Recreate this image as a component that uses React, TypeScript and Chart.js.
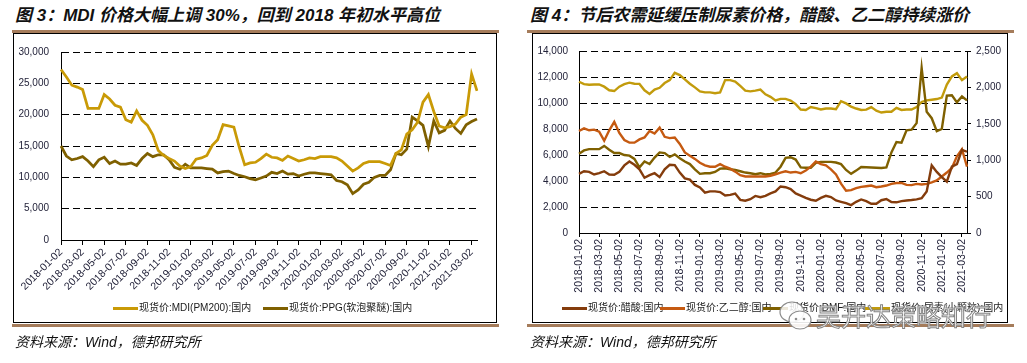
import React, { useEffect, useRef } from "react";
import { Chart, registerables } from "chart.js";

Chart.register(...registerables);

// ---------- categories (semi-monthly) ----------
const dates = [
  "2018-01-02","2018-01-17","2018-02-02","2018-02-17","2018-03-02","2018-03-17","2018-04-02","2018-04-17","2018-05-02","2018-05-17","2018-06-02","2018-06-17",
  "2018-07-02","2018-07-17","2018-08-02","2018-08-17","2018-09-02","2018-09-17","2018-10-02","2018-10-17","2018-11-02","2018-11-17","2018-12-02","2018-12-17",
  "2019-01-02","2019-01-17","2019-02-02","2019-02-17","2019-03-02","2019-03-17","2019-04-02","2019-04-17","2019-05-02","2019-05-17","2019-06-02","2019-06-17",
  "2019-07-02","2019-07-17","2019-08-02","2019-08-17","2019-09-02","2019-09-17","2019-10-02","2019-10-17","2019-11-02","2019-11-17","2019-12-02","2019-12-17",
  "2020-01-02","2020-01-17","2020-02-02","2020-02-17","2020-03-02","2020-03-17","2020-04-02","2020-04-17","2020-05-02","2020-05-17","2020-06-02","2020-06-17",
  "2020-07-02","2020-07-17","2020-08-02","2020-08-17","2020-09-02","2020-09-17","2020-10-02","2020-10-17","2020-11-02","2020-11-17","2020-12-02","2020-12-17",
  "2021-01-02","2021-01-17","2021-02-02","2021-02-17","2021-03-02","2021-03-17",
];

// ---------- Figure 3 series ----------
const mdiPrice = [
  27200,26000,24700,24400,24000,21000,21000,21000,23200,22500,
  21500,21200,19200,18800,20600,19100,18300,16800,14300,13500,
  13000,12600,11800,11400,11700,12900,13100,13500,15100,16000,
  18400,18200,18000,14800,12000,12300,12400,13000,13700,13200,
  13100,12700,13400,13000,12600,12800,13100,13000,13300,13300,
  13300,13100,12600,11800,11000,11500,12200,12500,12500,12500,
  12200,11900,13800,14400,16900,17600,18800,22000,23200,20500,
  18200,17900,18100,18500,19600,20000,26500,23800,
];
const ppgPrice = [
  15000,13400,12800,13000,13300,12600,11700,12800,13200,12200,
  12600,12100,12100,12300,11900,13000,13800,13300,13600,13600,
  12800,11600,11300,12100,11500,11500,11500,11400,11300,10700,
  10900,11000,10600,10300,10100,9800,9600,9900,10200,10800,
  10600,11000,10500,10600,10200,10500,10700,10700,10600,10500,
  10400,9500,9300,8800,7400,8000,8900,9200,10000,10300,
  10300,11200,13800,13600,14500,19600,19000,18300,14900,19000,
  17100,17500,19000,17800,17000,18400,18900,19300,
];

// ---------- Figure 4 series ----------
const aceticAcid = [
  4550,4750,4700,4500,4600,4750,4500,4480,4700,5200,
  5500,5250,4900,4250,4450,4600,4300,4900,5250,5220,
  4650,4200,4100,3700,3500,3100,3200,3200,3150,2880,
  2930,3030,2550,2480,2600,2850,2750,2860,3050,3200,
  3580,3520,3380,3050,2880,2700,2560,2480,2700,2860,
  2760,2500,2400,2300,2150,2400,2580,2450,2250,2250,
  2520,2610,2380,2360,2450,2500,2540,2590,2680,3200,
  5200,4700,4300,3950,5100,5300,6400,6250,
];
const ethyleneGlycol = [
  7850,8050,7900,7950,7800,7100,7900,8550,7700,7150,
  6950,6950,7200,7350,7850,7650,8100,7400,7300,7350,
  6850,6200,5950,5700,5400,5200,5100,5100,5300,5100,
  4950,4720,4450,4350,4350,4350,4350,4350,4400,4520,
  4650,4750,4650,4700,4600,4800,5100,5500,5300,5200,
  4900,4500,3800,3250,3300,3450,3550,3600,3650,3520,
  3580,3650,3780,3850,3850,3700,3680,3780,3730,3780,
  3900,4050,4350,4650,5000,5900,6450,5100,
];
const dmfPrice = [
  6100,6350,6450,6450,6450,6700,6400,6150,6150,6000,
  5950,5700,5050,5500,5300,5800,6200,6150,5850,6050,
  5750,5500,5300,4900,4550,4600,4600,4700,4950,4980,
  4900,4850,4750,4650,4600,4520,4600,4500,4550,4650,
  5100,5780,5830,5650,5050,5020,5020,5400,5470,5470,
  5470,5420,5300,4850,4550,4800,5080,5060,5040,5020,
  5000,5050,6200,7000,6950,7900,7950,8450,12700,9330,
  8830,7830,8000,10570,10600,10050,10500,10200,
];
const ureaPrice = [
  2078,2045,2036,2040,2040,2010,1960,1950,2010,2045,
  2065,2050,2048,1960,1910,1970,1995,2060,2100,2200,
  2170,2110,2050,2000,1945,1932,1932,1920,1930,2100,
  2100,2080,2020,1955,1945,1955,1970,1905,1870,1820,
  1843,1843,1820,1770,1696,1690,1730,1715,1696,1710,
  1710,1700,1810,1780,1735,1710,1690,1695,1730,1680,
  1655,1665,1665,1720,1690,1696,1696,1730,1800,1821,
  1830,1840,1860,2040,2150,2195,2100,2150,
];

const fig3Labels = ["现货价:MDI(PM200):国内", "现货价:PPG(软泡聚醚):国内"];
const fig4Labels = ["现货价:醋酸:国内", "现货价:乙二醇:国内", "现货价:DMF:国内", "现货价:尿素(小颗粒):国内"];

const COLORS = {
  mdi: "#C99A06",
  ppg: "#7F6000",
  acetic: "#843C0C",
  glycol: "#C55A11",
  dmf: "#7F6000",
  urea: "#C29B0C",
  rule: "#A57C5B",
};

const FONT = "'Liberation Sans', 'Noto Sans CJK SC', Arial, sans-serif";
const TICK_COLOR = "#23233a";

function xTickLabel(_v: any, index: number) {
  const d = dates[index];
  if (!d) return null;
  const m = Number(d.slice(5, 7));
  return d.endsWith("-02") && m % 2 === 1 ? d : null;
}

function lineDs(label: string, data: number[], color: string, width: number, yAxisID = "y") {
  return {
    label,
    data,
    borderColor: color,
    backgroundColor: color,
    borderWidth: width,
    pointRadius: 0,
    tension: 0,
    fill: false,
    yAxisID,
  };
}

function ChartCanvas({ config, left, top, width, height }: any) {
  const ref = useRef<HTMLCanvasElement | null>(null);
  useEffect(() => {
    if (!ref.current) return;
    const chart = new Chart(ref.current, config);
    return () => chart.destroy();
  }, []);
  return (
    <canvas
      ref={ref}
      width={width}
      height={height}
      style={{ position: "absolute", left, top, width, height }}
    />
  );
}

const fig3Config: any = {
  type: "line",
  data: {
    labels: dates,
    datasets: [
      lineDs(fig3Labels[0], mdiPrice, COLORS.mdi, 2.75),
      lineDs(fig3Labels[1], ppgPrice, COLORS.ppg, 2.75),
    ],
  },
  options: {
    animation: false,
    responsive: false,
    layout: { padding: { left: 0, top: 11, right: 19, bottom: 27 } },
    plugins: { legend: { display: false }, tooltip: { enabled: false } },
    scales: {
      x: {
        type: "category",
        ticks: {
          autoSkip: false,
          minRotation: 45,
          maxRotation: 45,
          callback: xTickLabel,
          font: { family: FONT, size: 10.5 },
          color: TICK_COLOR,
          padding: 1,
        },
        grid: { display: true, drawOnChartArea: false, drawTicks: true, tickLength: 5, color: "#000", lineWidth: 1 },
        border: { display: true, color: "#000", width: 1 },
        afterFit: (s: any) => { s.height = 55; },
      },
      y: {
        min: 0,
        max: 30000,
        ticks: { stepSize: 5000, font: { family: FONT, size: 10 }, color: TICK_COLOR, padding: 12 },
        grid: { color: "#000", lineWidth: 1, drawTicks: false },
        border: { display: true, color: "#000", width: 1, dash: [7, 4] },
        afterFit: (s: any) => { s.width = 47; },
      },
    },
  },
};

const fig4Config: any = {
  type: "line",
  data: {
    labels: dates,
    datasets: [
      lineDs(fig4Labels[0], aceticAcid, COLORS.acetic, 2.4),
      lineDs(fig4Labels[1], ethyleneGlycol, COLORS.glycol, 2.4),
      lineDs(fig4Labels[2], dmfPrice, COLORS.dmf, 2.4),
      lineDs(fig4Labels[3], ureaPrice, COLORS.urea, 2.4, "y1"),
    ],
  },
  options: {
    animation: false,
    responsive: false,
    layout: { padding: { left: 0, top: 12, right: 0, bottom: 27 } },
    plugins: { legend: { display: false }, tooltip: { enabled: false } },
    scales: {
      x: {
        type: "category",
        ticks: {
          autoSkip: false,
          minRotation: 90,
          maxRotation: 90,
          callback: xTickLabel,
          font: { family: FONT, size: 10.5 },
          color: TICK_COLOR,
          padding: 2,
        },
        grid: { display: true, drawOnChartArea: false, drawTicks: true, tickLength: 4, color: "#000", lineWidth: 1 },
        border: { display: true, color: "#000", width: 1 },
        afterFit: (s: any) => { s.height = 62; },
      },
      y: {
        position: "left",
        min: 0,
        max: 14000,
        ticks: { stepSize: 2000, font: { family: FONT, size: 10 }, color: TICK_COLOR, padding: 11 },
        grid: { color: "#000", lineWidth: 1, drawTicks: false },
        border: { display: true, color: "#000", width: 1, dash: [7, 4] },
        afterFit: (s: any) => { s.width = 46; },
      },
      y1: {
        position: "right",
        min: 0,
        max: 2500,
        ticks: { stepSize: 500, font: { family: FONT, size: 10 }, color: TICK_COLOR, padding: 5 },
        grid: { drawOnChartArea: false, drawTicks: true, tickLength: 4, color: "#000", lineWidth: 1 },
        border: { display: true, color: "#000", width: 1 },
        afterFit: (s: any) => { s.width = 40; },
      },
    },
  },
};

function LegendItem({ left, top, color, text }: any) {
  return (
    <div style={{ position: "absolute", left, top, height: 14, lineHeight: "14px", whiteSpace: "nowrap" }}>
      <div style={{ position: "absolute", left: 0, top: 5.5, width: 25, height: 3, background: color }} />
      <span style={{ position: "absolute", left: 26, top: 0, fontSize: 10, fontFamily: FONT, color: "#1a1a1a" }}>{text}</span>
    </div>
  );
}

const titleStyle: any = {
  position: "absolute",
  top: 6,
  lineHeight: "20px",
  fontSize: 17,
  fontWeight: "bold",
  fontStyle: "italic",
  fontFamily: FONT,
  color: "#111",
  whiteSpace: "nowrap",
};

const sourceStyle: any = {
  position: "absolute",
  top: 333,
  lineHeight: "18px",
  fontSize: 14,
  fontStyle: "italic",
  fontFamily: FONT,
  color: "#111",
  whiteSpace: "nowrap",
};

export default function App() {
  return (
    <div style={{ position: "absolute", left: 0, top: 0, width: 1027, height: 363, background: "#fff", overflow: "hidden" }}>
      {/* ---- Figure 3 ---- */}
      <div style={{ ...titleStyle, left: 15 }}>图 3：MDI 价格大幅上调 30%，回到 2018 年初水平高位</div>
      <div style={{ position: "absolute", left: 12, top: 30, width: 487, height: 3, background: COLORS.rule }} />
      <div style={{ position: "absolute", left: 13, top: 33, width: 484, height: 290, border: "1px solid #000", boxSizing: "border-box" }} />
      <ChartCanvas config={fig3Config} left={14} top={34} width={482} height={288} />
      <LegendItem left={113} top={301} color={COLORS.mdi} text={fig3Labels[0]} />
      <LegendItem left={263} top={301} color={COLORS.ppg} text={fig3Labels[1]} />
      <div style={{ position: "absolute", left: 12, top: 324, width: 487, height: 3, background: COLORS.rule }} />
      <div style={{ ...sourceStyle, left: 15 }}>资料来源：Wind，德邦研究所</div>

      {/* ---- Figure 4 ---- */}
      <div style={{ ...titleStyle, left: 530 }}>图 4：节后农需延缓压制尿素价格，醋酸、乙二醇持续涨价</div>
      <div style={{ position: "absolute", left: 527, top: 30, width: 487, height: 3, background: COLORS.rule }} />
      <div style={{ position: "absolute", left: 532, top: 33, width: 476, height: 290, border: "1px solid #000", boxSizing: "border-box" }} />
      <ChartCanvas config={fig4Config} left={533} top={34} width={474} height={288} />
      <LegendItem left={562} top={301} color={COLORS.acetic} text={fig4Labels[0]} />
      <LegendItem left={660} top={301} color={COLORS.glycol} text={fig4Labels[1]} />
      <LegendItem left={763} top={301} color={COLORS.dmf} text={fig4Labels[2]} />
      <LegendItem left={865} top={301} color={COLORS.urea} text={fig4Labels[3]} />
      <div style={{ position: "absolute", left: 527, top: 324, width: 487, height: 3, background: COLORS.rule }} />
      <div style={{ ...sourceStyle, left: 530 }}>资料来源：Wind，德邦研究所</div>

      {/* ---- watermark ---- */}
      <svg style={{ position: "absolute", left: 779, top: 300 }} width={34} height={32} viewBox="0 0 34 32">
        <ellipse cx="13" cy="12" rx="12" ry="10" fill="rgba(255,255,255,0.85)" stroke="#8c8c8c" strokeWidth="1.2" />
        <ellipse cx="21" cy="20" rx="11" ry="9" fill="rgba(255,255,255,0.9)" stroke="#8c8c8c" strokeWidth="1.2" />
        <circle cx="17" cy="19" r="1.3" fill="#8c8c8c" />
        <circle cx="25" cy="19" r="1.3" fill="#8c8c8c" />
      </svg>
      <div
        style={{
          position: "absolute",
          left: 816,
          top: 301,
          lineHeight: "28px",
          fontSize: 25,
          fontFamily: "'Noto Sans CJK SC', sans-serif",
          color: "rgba(255,255,255,0.85)",
          WebkitTextStroke: "1px rgba(125,125,125,0.95)",
          whiteSpace: "nowrap",
          letterSpacing: 0,
        }}
      >
        吴开达策略知行
      </div>
    </div>
  );
}
